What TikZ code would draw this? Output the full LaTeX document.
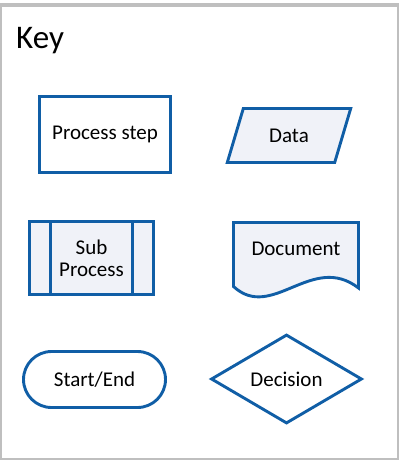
\documentclass[tikz,border=0pt]{standalone}
\usepackage{fontspec}
\setmainfont{Carlito}
\usetikzlibrary{shapes.geometric,shapes.misc}
\definecolor{keyblue}{RGB}{16,94,166}
\definecolor{keyfill}{RGB}{240,242,248}
\definecolor{framegray}{RGB}{191,191,191}
\begin{document}
\begin{tikzpicture}[x=1pt,y=-1pt,
	keyshape/.style={draw=keyblue, line width=2.9pt, inner sep=0pt, font=\fontsize{21}{24}\selectfont},
	lightshape/.style={keyshape, fill=keyfill}]
		% % Frame
			\useasboundingbox (0,0) rectangle (399,461);
			\draw[framegray, line width=1.5pt] (1,5) rectangle (398,459);
			\draw[framegray, line width=4pt] (0,5) -- (399,5);
			\node[anchor=base west, inner sep=0pt, font=\fontsize{33}{36}\selectfont] (key) at (16,48) {Key};
		% % Left column
			\node[keyshape, fill=white, minimum width=131pt, minimum height=76pt] (process) at (105,134.5) {Process step};
			\node[lightshape, minimum width=124pt, minimum height=73pt, align=center] (sub) at (91.5,258) {Sub\\[-2pt]Process};
			\foreach \side/\dx in {west/22.5, east/-22.5}{
				\draw[keyblue, line width=2.9pt] ([xshift=\dx pt]sub.north \side) -- ([xshift=\dx pt]sub.south \side);
			}
			\node[keyshape, rounded rectangle, fill=white, minimum width=142pt, minimum height=56pt] (terminal) at (94.5,379.5) {Start/End};
		% % Right column
			\node[lightshape, trapezium, trapezium left angle=63, trapezium right angle=117, trapezium stretches=true,
				minimum width=124pt, minimum height=54pt] (data) at (289,135.5) {Data};
			\filldraw[fill=keyfill, draw=keyblue, line width=2.9pt, line join=miter]
				(233.5,222.5) -- (358.5,222.5) -- (358.5,288)
				.. controls (312,252) and (272,322) .. (233.5,286.5) -- cycle;
			\node[keyshape, draw=none] (document) at (296,249) {Document};
			\node[keyshape, diamond, fill=white, minimum width=151pt, minimum height=89pt] (decision) at (286.5,379) {Decision};
\end{tikzpicture}
\end{document}
